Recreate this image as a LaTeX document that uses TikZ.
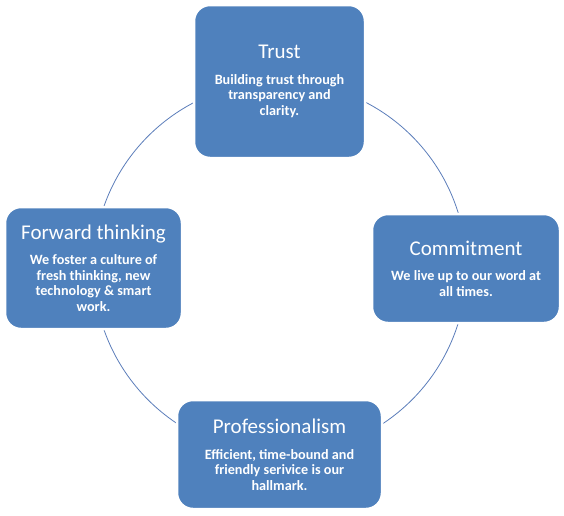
\documentclass[tikz,border=0pt]{standalone}
\usepackage{fontspec}
\setmainfont{Carlito}
\usetikzlibrary{positioning}
\definecolor{OfficeBlue}{HTML}{4F81BD}
\definecolor{RingBlue}{HTML}{5B7DBA}

\begin{document}
\begin{tikzpicture}[x=1pt,y=-1pt,
    valuebox/.style={draw=white,fill=OfficeBlue,line width=2.5pt,rounded corners=16pt,
      align=center,text=white,inner sep=4pt,
      font=\bfseries\fontsize{14.2}{15.5}\selectfont},
    ring/.style={RingBlue,line width=0.8pt}]
  \useasboundingbox (0,0) rectangle (564,515);
  \coordinate (hub) at (280,268);
  \draw[ring] (hub) circle (186.5pt);
  \node[valuebox,minimum width=171pt,minimum height=153pt] (trust) at (279.5,81.5)
    {{\mdseries\fontsize{21}{24}\selectfont Trust}\\[10pt]
     Building trust through\\transparency and\\clarity.};
  \node[valuebox,minimum width=177pt,minimum height=122pt] (forward) at (93.5,268)
    {{\mdseries\fontsize{21}{24}\selectfont Forward thinking}\\[10pt]
     We foster a culture of\\fresh thinking, new\\technology \& smart\\work.};
  \node[valuebox,minimum width=188pt,minimum height=109pt] (commit) at (466,268.5)
    {{\mdseries\fontsize{21}{24}\selectfont Commitment}\\[10pt]
     We live up to our word at\\all times.};
  \node[valuebox,minimum width=205pt,minimum height=109pt] (prof) at (279.5,454.5)
    {{\mdseries\fontsize{21}{24}\selectfont Professionalism}\\[10pt]
     Efficient, time-bound and\\friendly serivice is our\\hallmark.};
\end{tikzpicture}
\end{document}
